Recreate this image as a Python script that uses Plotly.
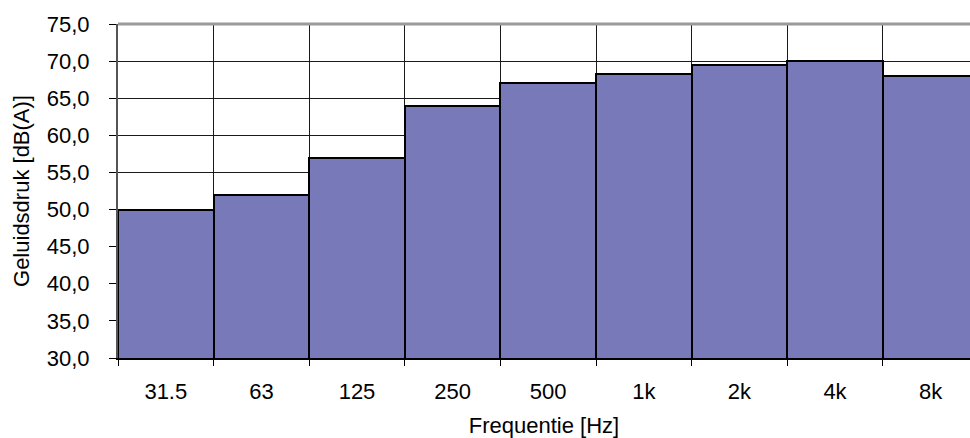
import plotly.graph_objects as go

# Octave-band sound pressure levels
bands = ["31.5", "63", "125", "250", "500", "1k", "2k", "4k", "8k"]
levels = [50.0, 52.0, 57.0, 64.0, 67.0, 68.3, 69.5, 70.0, 68.0]

y_ticks = [30, 35, 40, 45, 50, 55, 60, 65, 70, 75]

FONT = "Liberation Sans, Arial, sans-serif"
FS = 22

fig = go.Figure(
    go.Bar(
        x=bands,
        y=levels,
        width=1.0,
        marker=dict(color="#7779b9", line=dict(color="#000000", width=2)),
        hoverinfo="x+y",
    )
)

fig.update_layout(
    width=970,
    height=438,
    margin=dict(l=118, r=0, t=24, b=80),
    paper_bgcolor="white",
    plot_bgcolor="white",
    separators=",.",
    bargap=0,
    showlegend=False,
    font=dict(family=FONT, size=FS, color="#000000"),
)

fig.update_xaxes(
    type="category",
    range=[-0.5, 8.412],
    automargin=False,
    tickson="boundaries",
    ticks="outside",
    ticklen=6,
    tickcolor="#000000",
    tickwidth=1,
    ticklabelstandoff=13,
    showgrid=True,
    gridcolor="#1a1a1a",
    gridwidth=1,
    showline=True,
    linecolor="#000000",
    linewidth=2,
    mirror=False,
    tickfont=dict(size=FS),
    title=dict(text="Frequentie [Hz]", font=dict(size=FS), standoff=18),
)

fig.update_yaxes(
    range=[30, 75],
    tickvals=y_ticks,
    tickformat=".1f",
    automargin=False,
    ticks="outside",
    ticklen=7,
    tickcolor="#000000",
    tickwidth=1,
    ticklabelstandoff=15,
    showgrid=True,
    gridcolor="#1a1a1a",
    gridwidth=1,
    zeroline=False,
    showline=True,
    linecolor="#555555",
    linewidth=2,
    tickfont=dict(size=FS),
    title=dict(text="Geluidsdruk [dB(A)]", font=dict(size=FS), standoff=11),
)

# Grey frame line along the top of the plot area
fig.add_shape(
    type="line", xref="paper", yref="paper",
    x0=0, x1=1, y0=1, y1=1,
    line=dict(color="#999999", width=3),
    layer="above",
)

fig.write_html("out.html")
